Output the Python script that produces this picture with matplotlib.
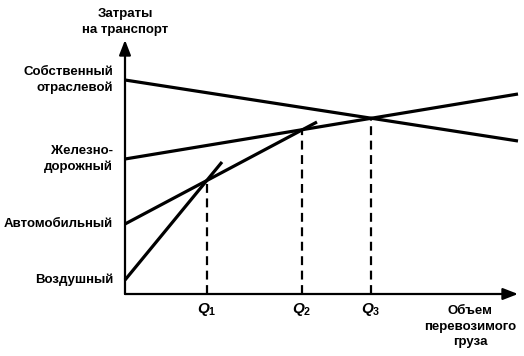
import matplotlib
matplotlib.use("Agg")
import matplotlib.pyplot as plt
import numpy as np

plt.rcParams['font.family'] = ['Liberation Sans', 'DejaVu Sans']
plt.rcParams['mathtext.fontset'] = 'custom'
plt.rcParams['mathtext.it'] = 'Liberation Sans:italic:bold'
plt.rcParams['mathtext.rm'] = 'Liberation Sans:bold'

# Data (arbitrary units: x = volume of cargo, y = transport costs)
modes = ["Собственный\nотраслевой", "Железно-\nдорожный", "Автомобильный", "Воздушный"]
line_x = [[0, 393], [0, 393], [0, 192], [0, 97]]
line_y = [[214, 153], [135, 200], [70, 172], [14, 132]]
q_labels = [r"$Q_1$", r"$Q_2$", r"$Q_3$"]
q_values = [82, 177, 246]
q_line_index = [3, 2, 0]   # line whose cost defines the dashed line top
y_title = "Затраты\nна транспорт"
x_title = "Объем\nперевозимого\nгруза"

W, H = 524, 356
fig = plt.figure(figsize=(W / 100, H / 100), dpi=100)
ax = fig.add_axes([125 / W, (H - 294) / H, (518 - 125) / W, (294 - 40) / H])
ax.set_xlim(0, 393)
ax.set_ylim(0, 254)
ax.axis('off')

# Axes with arrows
ax.annotate("", xy=(1.0, 0), xytext=(0, 0), xycoords='axes fraction',
            arrowprops=dict(arrowstyle='-|>,head_length=0.9,head_width=0.35', lw=1.6, color='black',
                            shrinkA=0, shrinkB=0), annotation_clip=False)
ax.annotate("", xy=(0, 1.0), xytext=(0, 0), xycoords='axes fraction',
            arrowprops=dict(arrowstyle='-|>,head_length=0.9,head_width=0.35', lw=1.6, color='black',
                            shrinkA=0, shrinkB=0), annotation_clip=False)

for lab, xs, ys in zip(modes, line_x, line_y):
    ax.plot(xs, ys, color='black', lw=2.3, solid_capstyle='butt', clip_on=False)
    ax.text(-12, ys[0], lab, ha='right', va='center', fontsize=9.5, fontweight='bold',
            linespacing=1.35)

for lab, q, li in zip(q_labels, q_values, q_line_index):
    top = np.interp(q, line_x[li], line_y[li])
    ax.plot([q, q], [0, top], color='black', lw=1.6, ls=(0, (4, 2.5)))
    ax.text(q, -7, lab, ha='center', va='top', fontsize=11)

ax.text(0, 272, y_title, ha='center', va='center',
        fontsize=9.5, fontweight='bold', linespacing=1.4, clip_on=False)
ax.text(345, -11, x_title, ha='center', va='top', fontsize=9.5, fontweight='bold',
        linespacing=1.4)

fig.savefig("out.png", dpi=100)
